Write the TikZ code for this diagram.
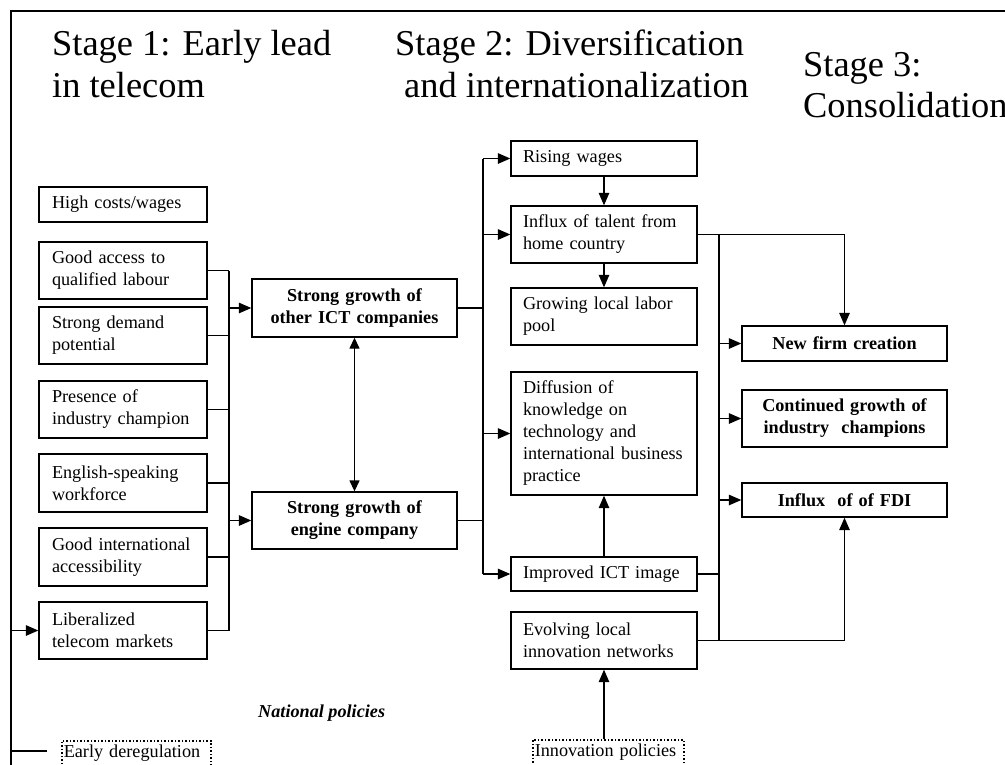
\documentclass[tikz,border=0pt]{standalone}
\usepackage{fontspec}
\setmainfont{Liberation Serif}
\usetikzlibrary{arrows.meta,calc}
\newcommand\bodyfnt{\fontsize{18.2pt}{22pt}\selectfont}
\newcommand\titlefnt{\fontsize{36.4pt}{42pt}\selectfont}
\tikzset{
  ln/.style={line width=1.35pt},
  arr/.style={ln,-{Triangle[length=12.5pt,width=10.5pt]}},
  darr/.style={ln,{Triangle[length=11pt,width=10pt]}-{Triangle[length=11pt,width=10pt]}},
  lbox/.style={draw,line width=1.35pt,font=\bodyfnt,align=left,inner xsep=13pt,inner ysep=0pt,text width=142pt},
  mbox/.style={draw,line width=1.35pt,font=\bodyfnt,align=left,inner xsep=12pt,inner ysep=0pt,text width=162pt},
  bbox/.style={draw,line width=1.35pt,font=\bodyfnt\bfseries,align=center,inner xsep=5pt,inner ysep=0pt,text width=195pt},
  dbox/.style={draw,dotted,line width=1.5pt,font=\bodyfnt,align=left,anchor=north west,inner xsep=2pt,inner ysep=4pt,text height=13pt,text depth=30pt},
  title/.style={font=\titlefnt,anchor=base west,inner sep=0pt}
}
\begin{document}
\begin{tikzpicture}[x=1pt,y=-1pt]
\clip (0,0) rectangle (1005,764);
\fill[white] (0,0) rectangle (1005,764);
% frame
\coordinate (fr1) at (1010,11);
\coordinate (fr2) at (11,11);
\coordinate (fr3) at (11,770);
\draw[ln] (fr1) -- (fr2) -- (fr3);
% titles
\node[title] (t1a) at (52,55) {Stage 1: Early lead};
\node[title] (t1b) at (52,97) {in telecom};
\node[title] (t2a) at (395,55) {Stage 2: Diversification};
\node[title] (t2b) at (404,97) {and internationalization};
\node[title] (t3a) at (803,76) {Stage 3:};
\node[title] (t3b) at (803,117) {Consolidation};
% left column
\node[lbox,minimum height=35pt] (hc) at (123,204.5) {High costs/wages};
\node[lbox,minimum height=57pt] (ga) at (123,270.5) {Good access to\\qualified labour};
\node[lbox,minimum height=57pt] (sd) at (123,335.5) {Strong demand\\potential};
\node[lbox,minimum height=57pt] (pi) at (123,409.5) {Presence of\\industry champion};
\node[lbox,minimum height=58pt] (es) at (123,483) {English-speaking\\workforce};
\node[lbox,minimum height=58pt] (gi) at (123,557) {Good international\\accessibility};
\node[lbox,minimum height=57pt] (lib) at (123,630.5) {Liberalized\\telecom markets};
% middle
\node[bbox,minimum height=58pt] (ict) at (354.5,308) {Strong growth of\\other ICT companies};
\node[bbox,minimum height=57pt] (eng) at (354.5,520.5) {Strong growth of\\engine company};
% column 2
\node[mbox,minimum height=35pt] (rw) at (604,158.5) {Rising wages};
\node[mbox,minimum height=57pt] (inf) at (604,234.5) {Influx of talent from\\home country};
\node[mbox,minimum height=57pt] (glp) at (604,316.5) {Growing local labor\\pool};
\node[mbox,minimum height=123pt] (dif) at (604,433.5) {Diffusion of\\knowledge on\\technology and\\international business\\practice};
\node[mbox,minimum height=34pt] (img) at (604,574) {Improved ICT image};
\node[mbox,minimum height=57pt] (evo) at (604,640.5) {Evolving local\\innovation networks};
% stage 3
\node[bbox,minimum height=35pt] (nf) at (844.5,343.5) {New firm creation};
\node[bbox,minimum height=57pt] (cg) at (844.5,418.5) {Continued growth of\\industry\ \ champions};
\node[bbox,minimum height=34pt] (fdi) at (844.5,500) {Influx\ \ of of FDI};
% policies
\node[dbox,text width=145pt] (ed) at (61,740) {Early deregulation};
\node[dbox,text width=147pt] (inn) at (532,739) {Innovation policies};
\node[font=\bodyfnt\bfseries\itshape,anchor=base west,inner sep=0pt] (np) at (258,717) {National policies};
% left bus
\coordinate (b1) at (229,0);
\foreach \n in {ga,sd,pi,es,gi,lib} \draw[ln] (\n.east) -- (\n.east -| b1);
\draw[ln] (ga.east -| b1) -- (lib.east -| b1);
\draw[arr] (ict.west -| b1) -- (ict.west);
\draw[arr] (eng.west -| b1) -- (eng.west);
\draw[darr] (ict.south) -- (eng.north);
% middle bus
\coordinate (b2) at (483,0);
\draw[ln] (ict.east) -- (ict.east -| b2);
\draw[ln] (eng.east) -- (eng.east -| b2);
\draw[ln] (rw.west -| b2) -- (img.west -| b2);
\foreach \n in {rw,inf,dif,img} \draw[arr] (\n.west -| b2) -- (\n.west);
\draw[arr] (rw.south) -- (inf.north);
\draw[arr] (inf.south) -- (glp.north);
\draw[arr] (img.north) -- (dif.south);
\draw[arr] (evo.south |- inn.north) -- (evo.south);
% right bus
\coordinate (b3) at (719,0);
\draw[arr] (inf.east) -- (inf.east -| nf.north) -- (nf.north);
\draw[ln] (inf.east -| b3) -- (evo.east -| b3);
\draw[ln] (img.east) -- (img.east -| b3);
\draw[arr] (evo.east) -- (evo.east -| fdi.south) -- (fdi.south);
\foreach \n in {nf,cg,fdi} \draw[arr] (\n.west -| b3) -- (\n.west);
% national policies connectors on the frame
\coordinate (edend) at (47,751);
\draw[ln] (edend) -- (edend -| fr2);
\draw[arr] (lib.west -| fr2) -- (lib.west);
\end{tikzpicture}
\end{document}
